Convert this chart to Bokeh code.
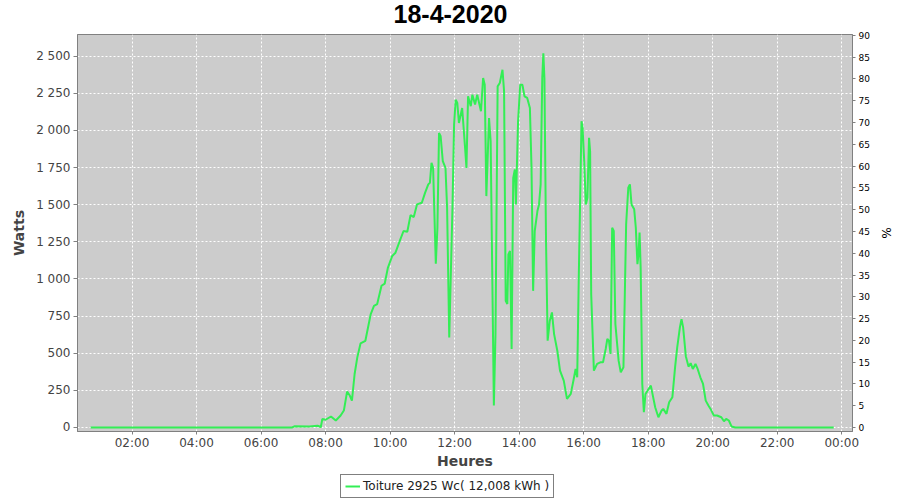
import pandas as pd
from bokeh.plotting import figure
from bokeh.layouts import column
from bokeh.models import (Range1d, LinearAxis, FixedTicker, DatetimeTickFormatter,
                          Legend, LegendItem, ColumnDataSource, Label)
from bokeh.embed import file_html
from bokeh.resources import INLINE

# ---------------- data ----------------
title_text = "18-4-2020"
series_name = "Toiture 2925 Wc( 12,008 kWh )"
day = "2020-04-18"

times = ["00:43", "03:00", "06:00", "06:58", "07:02", "07:30", "07:45", "07:50",
         "07:51", "07:54", "08:00", "08:10", "08:19", "08:28", "08:34", "08:40", "08:45", "08:49",
         "08:54", "08:59", "09:05", "09:14", "09:24", "09:30", "09:36", "09:44", "09:50", "09:56",
         "10:04", "10:10", "10:18", "10:25", "10:32", "10:38", "10:44", "10:50", "10:59", "11:05",
         "11:11", "11:14", "11:17", "11:20", "11:25", "11:28", "11:31", "11:34", "11:38", "11:43",
         "11:46", "11:50", "11:56", "11:59", "12:02", "12:05", "12:08", "12:14", "12:19", "12:22",
         "12:25", "12:30", "12:33", "12:38", "12:42", "12:49", "12:53", "12:56", "12:59", "13:04",
         "13:07", "13:13", "13:16", "13:20", "13:24", "13:29", "13:32", "13:35", "13:38", "13:40",
         "13:43", "13:46", "13:49", "13:52", "13:54", "13:58", "14:02", "14:06", "14:10", "14:15",
         "14:20", "14:23", "14:26", "14:29", "14:34", "14:37", "14:40", "14:43", "14:45", "14:47",
         "14:50", "14:53", "14:57", "15:01", "15:05", "15:11", "15:16", "15:23", "15:29", "15:36",
         "15:41", "15:45", "15:48", "15:51", "15:56", "15:58", "16:01", "16:04", "16:07", "16:10",
         "16:12", "16:14", "16:19", "16:25", "16:31", "16:36", "16:41", "16:44", "16:47", "16:50",
         "16:53", "16:56", "16:59", "17:05", "17:09", "17:14", "17:19", "17:23", "17:26", "17:29",
         "17:34", "17:37", "17:40", "17:42", "17:44", "17:46", "17:49", "17:52", "17:55", "18:01",
         "18:05", "18:08", "18:13", "18:19", "18:25", "18:28", "18:34", "18:39", "18:45", "18:50",
         "18:54", "18:59", "19:02", "19:05", "19:10", "19:15", "19:19", "19:23", "19:28", "19:32",
         "19:37", "19:42", "19:47", "19:52", "19:56", "20:02", "20:08", "20:16", "20:21", "20:25",
         "20:30", "20:35", "20:42", "23:45"]

watts = [0, 0, 0, 0, 8, 6, 12, 5,
         0, 58, 52, 74, 47, 81, 114, 242, 215, 181,
         360, 472, 566, 584, 764, 819, 831, 954, 969, 1077,
         1155, 1177, 1256, 1323, 1318, 1430, 1417, 1502, 1513, 1580,
         1637, 1648, 1782, 1748, 1103, 1345, 1983, 1961, 1793, 1748,
         1480, 606, 1480, 2040, 2207, 2185, 2050, 2151, 1905, 1748,
         2230, 2163, 2241, 2174, 2241, 2129, 2353, 2308, 1558, 2084,
         1927, 148, 629, 2297, 2319, 2409, 2263, 853, 831, 1166,
         1189, 529, 1681, 1737, 1502, 2062, 2308, 2308, 2230, 2219,
         2151, 1748, 920, 1323, 1457, 1502, 1637, 2353, 2520, 2353,
         1256, 584, 719, 775, 629, 517, 383, 316, 193, 226,
         316, 394, 338, 1032, 2062, 2017, 1793, 1502, 1547, 1950,
         1860, 898, 383, 428, 439, 439, 529, 596, 584, 495,
         1345, 1323, 696, 450, 371, 405, 1368, 1614, 1637, 1502,
         1469, 1345, 1099, 1166, 1312, 1077, 293, 103, 226, 260,
         282, 226, 136, 69, 114, 125, 92, 170, 204, 405,
         539, 674, 730, 674, 480, 410, 433, 394, 428, 394,
         338, 293, 181, 148, 125, 81, 81, 69, 42, 58,
         47, 7, 0, 0]

x_tick_labels = ["02:00", "04:00", "06:00", "08:00", "10:00", "12:00",
                 "14:00", "16:00", "18:00", "20:00", "22:00", "00:00"]
y_ticks = [0, 250, 500, 750, 1000, 1250, 1500, 1750, 2000, 2250, 2500]
y_tick_labels = ["0", "250", "500", "750", "1 000", "1 250", "1 500",
                 "1 750", "2 000", "2 250", "2 500"]
pct_ticks = list(range(0, 95, 5))

# ---------------- build ----------------
t = pd.to_datetime([f"{day} {s}" for s in times])
src = ColumnDataSource(dict(t=t, w=watts))

base = pd.Timestamp(day)
x_start = base + pd.Timedelta(minutes=18.6)
x_end = base + pd.Timedelta(hours=24, minutes=20)
x_tick_ms = [(base + pd.Timedelta(hours=2 * (i + 1))).value / 1e6 for i in range(len(x_tick_labels))]
x_range = Range1d(x_start, x_end)

# ---- title strip ----
ttl = figure(width=900, height=26, x_range=x_range, y_range=Range1d(0, 1),
             output_backend="svg", toolbar_location=None,
             x_axis_location=None, y_axis_location=None, min_border=0)
ttl.grid.visible = False
ttl.outline_line_color = None
ttl.background_fill_color = "white"
ttl.border_fill_color = "white"
# title centred on the page (page x = 450 while the frame spans 77..852)
page_frac = (450 - 77) / 775
title_x = (x_start + (x_end - x_start) * page_frac).value / 1e6
ttl.add_layout(Label(x=title_x, y=0.48, text=title_text, text_align="center",
                     text_baseline="middle", text_font="Liberation Sans",
                     text_font_style="bold", text_font_size="25px", text_color="black"))

# ---- main chart ----
p = figure(width=900, height=447, x_axis_type="datetime",
           x_range=x_range, y_range=Range1d(-27, 2646),
           output_backend="svg", toolbar_location=None,
           min_border_left=77, min_border_right=48, min_border_top=8,
           min_border_bottom=42)

p.background_fill_color = "#cccccc"
p.border_fill_color = "white"
p.outline_line_color = "#808080"
p.outline_line_width = 1

p.grid.grid_line_color = "white"
p.grid.grid_line_dash = "2 2"
p.grid.grid_line_width = 1

# x axis
xa = p.xaxis[0]
xa.ticker = FixedTicker(ticks=x_tick_ms)
xa.major_label_overrides = {v: lab for v, lab in zip(x_tick_ms, x_tick_labels)}
xa.formatter = DatetimeTickFormatter(hours="%H:%M", days="%H:%M", hourmin="%H:%M")
xa.axis_label = "Heures"
p.xgrid.ticker = FixedTicker(ticks=x_tick_ms)

# left axis
ya = p.yaxis[0]
ya.ticker = FixedTicker(ticks=y_ticks)
ya.major_label_overrides = {v: lab for v, lab in zip(y_ticks, y_tick_labels)}
ya.axis_label = "Watts"
p.ygrid.ticker = FixedTicker(ticks=y_ticks)

for ax in (xa, ya):
    ax.axis_line_color = "#808080"
    ax.major_tick_line_color = "#808080"
    ax.minor_tick_line_color = None
    ax.major_tick_in = 0
    ax.major_tick_out = 4
    ax.major_label_standoff = 3
    ax.major_label_text_font = "DejaVu Sans"
    ax.major_label_text_font_size = "12px"
    ax.major_label_text_color = "#444444"
    ax.axis_label_text_font = "DejaVu Sans"
    ax.axis_label_text_font_style = "bold"
    ax.axis_label_text_font_size = "14px"
    ax.axis_label_text_color = "#444444"
    ax.axis_label_standoff = 6

xa.major_tick_out = 3
xa.major_label_standoff = 1
xa.axis_label_standoff = 0

# right axis
p.extra_y_ranges = {"pct": Range1d(-0.92, 90.2)}
ra = LinearAxis(y_range_name="pct", ticker=FixedTicker(ticks=pct_ticks), axis_label="%")
ra.axis_line_color = "#808080"
ra.major_tick_line_color = "#808080"
ra.minor_tick_line_color = None
ra.major_tick_in = 0
ra.major_tick_out = 3
ra.major_label_standoff = 3
ra.major_label_text_font = "DejaVu Sans"
ra.major_label_text_font_size = "9px"
ra.major_label_text_color = "black"
ra.axis_label_text_font = "DejaVu Sans"
ra.axis_label_text_font_style = "normal"
ra.axis_label_text_font_size = "12px"
ra.axis_label_text_color = "black"
ra.axis_label_standoff = 6
p.add_layout(ra, "right")

line_color = "#33ee55"
p.line("t", "w", source=src, line_color=line_color, line_width=2)

# ---- legend strip (separate figure so the box can sit below the axis title) ----
leg = figure(width=900, height=27, x_range=x_range, y_range=Range1d(5000, 6000),
             output_backend="svg", toolbar_location=None,
             x_axis_location=None, y_axis_location=None, min_border=0)
leg.grid.visible = False
leg.outline_line_color = None
leg.background_fill_color = "white"
leg.border_fill_color = "white"
lr = leg.line("t", "w", source=src, line_color=line_color, line_width=2)

legend = Legend(items=[LegendItem(label=series_name, renderers=[lr])],
                location=(263, 2), orientation="horizontal",
                border_line_color="black", border_line_width=1,
                label_text_font="DejaVu Sans", label_text_font_size="12px",
                label_text_color="#222222", glyph_width=15, glyph_height=12,
                padding=4, margin=0, spacing=0, label_standoff=3,
                label_height=12, background_fill_color="white")
leg.add_layout(legend, "center")

layout = column(ttl, p, leg, spacing=0)
open("out.html", "w").write(file_html(layout, INLINE))
